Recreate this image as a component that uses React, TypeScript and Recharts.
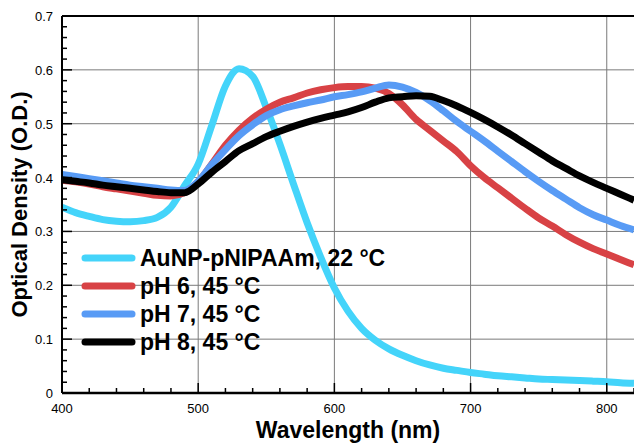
import { CartesianGrid, Label, Legend, Line, LineChart, ReferenceLine, XAxis, YAxis } from "recharts";

// wavelength in nm, every 10 nm
const wavelengths = [
    400, 410, 420, 430, 440, 450, 460, 470, 480, 490,
    500, 510, 520, 530, 540, 550, 560, 570, 580, 590,
    600, 610, 620, 630, 640, 650, 660, 670, 680, 690,
    700, 710, 720, 730, 740, 750, 760, 770, 780, 790,
    800, 810, 820,
];

const aunp22 = [
    0.345, 0.335, 0.328, 0.322, 0.319, 0.318, 0.320, 0.326, 0.345, 0.385,
    0.425, 0.497, 0.570, 0.602, 0.588, 0.530, 0.462, 0.388, 0.316, 0.252,
    0.195, 0.152, 0.120, 0.098, 0.082, 0.070, 0.060, 0.052, 0.046, 0.042,
    0.038, 0.035, 0.032, 0.030, 0.028, 0.026, 0.025, 0.024, 0.023, 0.022,
    0.021, 0.019, 0.018,
];

const ph6 = [
    0.395, 0.392, 0.388, 0.383, 0.379, 0.375, 0.371, 0.367, 0.366, 0.372,
    0.392, 0.425, 0.460, 0.488, 0.510, 0.527, 0.540, 0.548, 0.557, 0.563,
    0.567, 0.569, 0.569, 0.566, 0.556, 0.535, 0.508, 0.488, 0.468, 0.448,
    0.422, 0.400, 0.381, 0.362, 0.343, 0.325, 0.310, 0.294, 0.280, 0.268,
    0.258, 0.248, 0.238,
];

const ph7 = [
    0.406, 0.402, 0.398, 0.394, 0.390, 0.386, 0.383, 0.380, 0.377, 0.376,
    0.393, 0.424, 0.452, 0.478, 0.498, 0.515, 0.526, 0.533, 0.539, 0.544,
    0.550, 0.554, 0.559, 0.566, 0.572, 0.568, 0.558, 0.543, 0.524, 0.504,
    0.486, 0.468, 0.449, 0.430, 0.411, 0.393, 0.376, 0.360, 0.344, 0.331,
    0.321, 0.311, 0.303,
];

const ph8 = [
    0.396, 0.393, 0.390, 0.386, 0.383, 0.380, 0.377, 0.374, 0.372, 0.372,
    0.388, 0.410, 0.430, 0.450, 0.463, 0.476, 0.486, 0.495, 0.503, 0.510,
    0.516, 0.522, 0.530, 0.540, 0.548, 0.550, 0.552, 0.551, 0.543, 0.533,
    0.521, 0.508, 0.494, 0.479, 0.463, 0.447, 0.431, 0.417, 0.403, 0.391,
    0.380, 0.369, 0.358,
];

const xTicks = [400, 420, 440, 460, 480, 500, 520, 540, 560, 580, 600, 620, 640, 660, 680, 700, 720, 740, 760, 780, 800, 820];
const xGrid = [500, 600, 700, 800];
const yTicks = [
    0, 0.02, 0.04, 0.06, 0.08, 0.1, 0.12, 0.14, 0.16, 0.18, 0.2, 0.22, 0.24, 0.26, 0.28,
    0.3, 0.32, 0.34, 0.36, 0.38, 0.4, 0.42, 0.44, 0.46, 0.48, 0.5, 0.52, 0.54, 0.56, 0.58,
    0.6, 0.62, 0.64, 0.66, 0.68, 0.7,
];
const yGrid = [0.1, 0.2, 0.3, 0.4, 0.5, 0.6];

const series = [
    { key: "aunp22", name: "AuNP-pNIPAAm, 22 °C", color: "#44D4FA" },
    { key: "ph6", name: "pH 6, 45 °C", color: "#D84245" },
    { key: "ph7", name: "pH 7, 45 °C", color: "#589BF5" },
    { key: "ph8", name: "pH 8, 45 °C", color: "#000000" },
];

const rows = wavelengths.map((w, i) => ({
    wavelength: w,
    aunp22: aunp22[i],
    ph6: ph6[i],
    ph7: ph7[i],
    ph8: ph8[i],
}));

const FONT = "'Liberation Sans', Arial, Helvetica, sans-serif";

const XTick = (props: any) => {
    const { x, y, payload } = props;
    const major = payload.value % 100 === 0;
    return (
        <g>
            <line x1={x} x2={x} y1={y} y2={y - (major ? 10 : 5)} stroke="#000" strokeWidth={1.5} />
            {major && (
                <text x={x} y={y + 20} textAnchor="middle" fontSize={13} fill="#000" fontFamily={FONT}>
                    {payload.value}
                </text>
            )}
        </g>
    );
};

const YTick = (props: any) => {
    const { x, y, payload } = props;
    const v = payload.value;
    const major = Math.abs(v * 10 - Math.round(v * 10)) < 1e-6;
    return (
        <g>
            <line x1={x} x2={x + (major ? 10 : 5)} y1={y} y2={y} stroke="#000" strokeWidth={1.5} />
            {major && (
                <text x={x - 9} y={y + 5} textAnchor="end" fontSize={13} fill="#000" fontFamily={FONT}>
                    {v === 0 ? "0" : v.toFixed(1)}
                </text>
            )}
        </g>
    );
};

const renderLegend = () => (
    <div style={{ fontFamily: FONT }}>
        {series.map((s) => (
            <div key={s.key} style={{ display: "flex", alignItems: "center", height: 28 }}>
                <svg width={58} height={12}>
                    <line x1={5} x2={52} y1={6} y2={6} stroke={s.color} strokeWidth={7} strokeLinecap="round" />
                </svg>
                <span style={{ fontSize: 23, fontWeight: "bold", color: "#000", marginLeft: 2, whiteSpace: "nowrap" }}>
                    {s.name}
                </span>
            </div>
        ))}
    </div>
);

const App = () => {
    return (
        <div style={{ position: "absolute", left: 0, top: 0, width: 634, height: 444, background: "#fff", fontFamily: FONT }}>
            <LineChart width={634} height={444} data={rows} margin={{ top: 16, right: 0, left: 0, bottom: 0 }}>
                <CartesianGrid stroke="#7a7a7a" strokeWidth={1} horizontalValues={yGrid} verticalValues={xGrid} />
                <XAxis
                    dataKey="wavelength"
                    type="number"
                    domain={[400, 820]}
                    ticks={xTicks}
                    interval={0}
                    height={51}
                    tickSize={0}
                    tickMargin={0}
                    tick={<XTick />}
                    axisLine={{ stroke: "#000", strokeWidth: 2.5 }}
                    allowDataOverflow
                >
                    <Label value="Wavelength (nm)" position="insideBottom" offset={6} fontSize={23} fontWeight="bold" fill="#000" fontFamily={FONT} />
                </XAxis>
                <YAxis
                    type="number"
                    domain={[0, 0.7]}
                    ticks={yTicks}
                    interval={0}
                    width={62}
                    tickSize={0}
                    tickMargin={0}
                    tick={<YTick />}
                    axisLine={{ stroke: "#000", strokeWidth: 2 }}
                    allowDataOverflow
                >
                    <Label value="Optical Density (O.D.)" angle={-90} position="center" dx={-12} fontSize={22} fontWeight="bold" fill="#000" fontFamily={FONT} />
                </YAxis>
                <ReferenceLine y={0.7} stroke="#000" strokeWidth={2} />
                {series.map((s) => (
                    <Line
                        key={s.key}
                        dataKey={s.key}
                        name={s.name}
                        type="monotone"
                        stroke={s.color}
                        strokeWidth={7}
                        dot={false}
                        activeDot={false}
                        isAnimationActive={false}
                    />
                ))}
                <Legend
                    content={renderLegend}
                    layout="vertical"
                    verticalAlign="middle"
                    align="center"
                    wrapperStyle={{ left: 80, top: 244, width: 360 }}
                />
            </LineChart>
        </div>
    );
};

export default App;
